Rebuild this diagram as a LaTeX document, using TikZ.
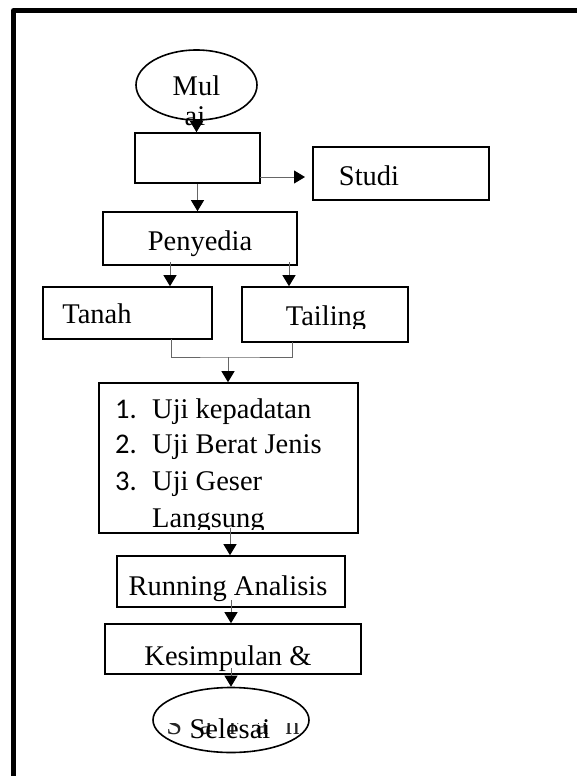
\documentclass[tikz,border=0pt]{standalone}
\usepackage{fontspec}
\setmainfont{Liberation Serif}
\newfontfamily\numfont{Carlito}
\usetikzlibrary{arrows.meta,shapes.geometric,calc}
\tikzset{
  box/.style={draw=black, line width=1.6pt, fill=white, inner sep=0pt, rectangle},
  oval/.style={draw=black, line width=1.6pt, ellipse, inner sep=0pt},
  txt/.style={inner sep=0pt, font=\fontsize{28.5}{30}\selectfont},
  numtxt/.style={inner sep=0pt, font=\fontsize{28.5}{30}\selectfont\numfont},
  conn/.style={draw=black!60, line width=1pt, -{Triangle[width=13pt,length=11pt,fill=black,color=black]}},
  plain/.style={draw=black!60, line width=1pt},
  frame/.style={line width=5pt, line join=round}
}
\begin{document}
\begin{tikzpicture}[x=1pt,y=-1pt]
\useasboundingbox (0,0) rectangle (577,776);
\fill[white] (0,0) rectangle (577,776);
% outer frame (only top and left visible)
\draw[frame] (13.5,776) -- (13.5,10.5) -- (577,10.5);

% shapes
\node[oval, minimum width=121pt, minimum height=70pt] (mulai) at (196.5,85) {};
\node[box, minimum width=125pt, minimum height=50pt] (box1) at (197.5,158) {};
\node[box, minimum width=176pt, minimum height=53pt] (studi) at (401,173.5) {};
\node[box, minimum width=194pt, minimum height=53pt] (peny) at (200,238.5) {};
\node[box, minimum width=169pt, minimum height=52pt] (tanah) at (127.5,313) {};
\node[box, minimum width=166pt, minimum height=55pt] (tailing) at (325,314.5) {};
\node[box, minimum width=259pt, minimum height=150pt] (test) at (228.5,458) {};
\node[box, minimum width=228pt, minimum height=51pt] (run) at (231,581.5) {};
\node[box, minimum width=256pt, minimum height=50pt] (kes) at (233,649) {};
\node[oval, fill=white, minimum width=156pt, minimum height=65pt] (sel) at (231,720) {};

% texts
\node[txt, anchor=base] (tmul) at (196.5,95) {Mul};
\node[txt, anchor=base] (tai) at (195,125) {ai};
\node[txt, anchor=base] (tstudi) at (369,185) {Studi};
\node[txt, anchor=base] (tpeny) at (200,250) {Penyedia};
\node[txt, anchor=base] (ttanah) at (97,323) {Tanah};
\begin{scope}
\clip (242,287) rectangle (408,328);
\node[txt, anchor=base] (ttail) at (326,325) {Tailing};
\end{scope}
\node[numtxt, anchor=base west] (n1) at (115,418) {1.};
\node[txt, anchor=base west] (l1) at (152,418) {Uji kepadatan};
\node[numtxt, anchor=base west] (n2) at (115,453) {2.};
\node[txt, anchor=base west] (l2) at (152,453) {Uji Berat Jenis};
\node[numtxt, anchor=base west] (n3) at (115,490) {3.};
\node[txt, anchor=base west] (l3) at (152,490) {Uji Geser};
\begin{scope}
\clip (100,500) rectangle (358,529);
\node[txt, anchor=base west] (l4) at (152,527) {Langsung};
\end{scope}
\node[txt, anchor=base] (trun) at (228,595) {Running Analisis};
\node[txt, anchor=base] (tkes) at (228,665) {Kesimpulan \&};
\begin{scope}
\clip (231,720) ellipse [x radius=77pt, y radius=31.5pt];
\clip (140,723) rectangle (320,760);
\node[txt, anchor=base, text=black!85] (tsaran) at (233,734) {\addfontfeature{LetterSpace=60}Saran};
\end{scope}
\node[txt, anchor=base] (tsel) at (230,738) {Selesai};

% connectors
\coordinate (sa) at (260,177);
\coordinate (sb) at (305,177);
\coordinate (pt) at (170,262);
\coordinate (pl) at (289,262);
\coordinate (ja) at (171,339);
\coordinate (jb) at (292,342);
\coordinate (j) at (228,357);
\coordinate (ts) at (230,528);
\coordinate (rs) at (231,600);
\coordinate (ks) at (231,668);
\draw[conn] (mulai.south) -- (mulai.south |- box1.north);
\draw[conn] (sa) -- (sb);
\draw[conn] (box1.south) -- (box1.south |- peny.north);
\draw[conn] (pt) -- (pt |- tanah.north);
\draw[conn] (pl) -- (pl |- tailing.north);
\draw[plain] (ja) |- (j) -| (jb);
\draw[conn] (j) -- (j |- test.north);
\draw[conn] (ts) -- (ts |- run.north);
\draw[conn] (rs) -- (rs |- kes.north);
\draw[conn] (ks) -- (ks |- sel.north);
\end{tikzpicture}
\end{document}
